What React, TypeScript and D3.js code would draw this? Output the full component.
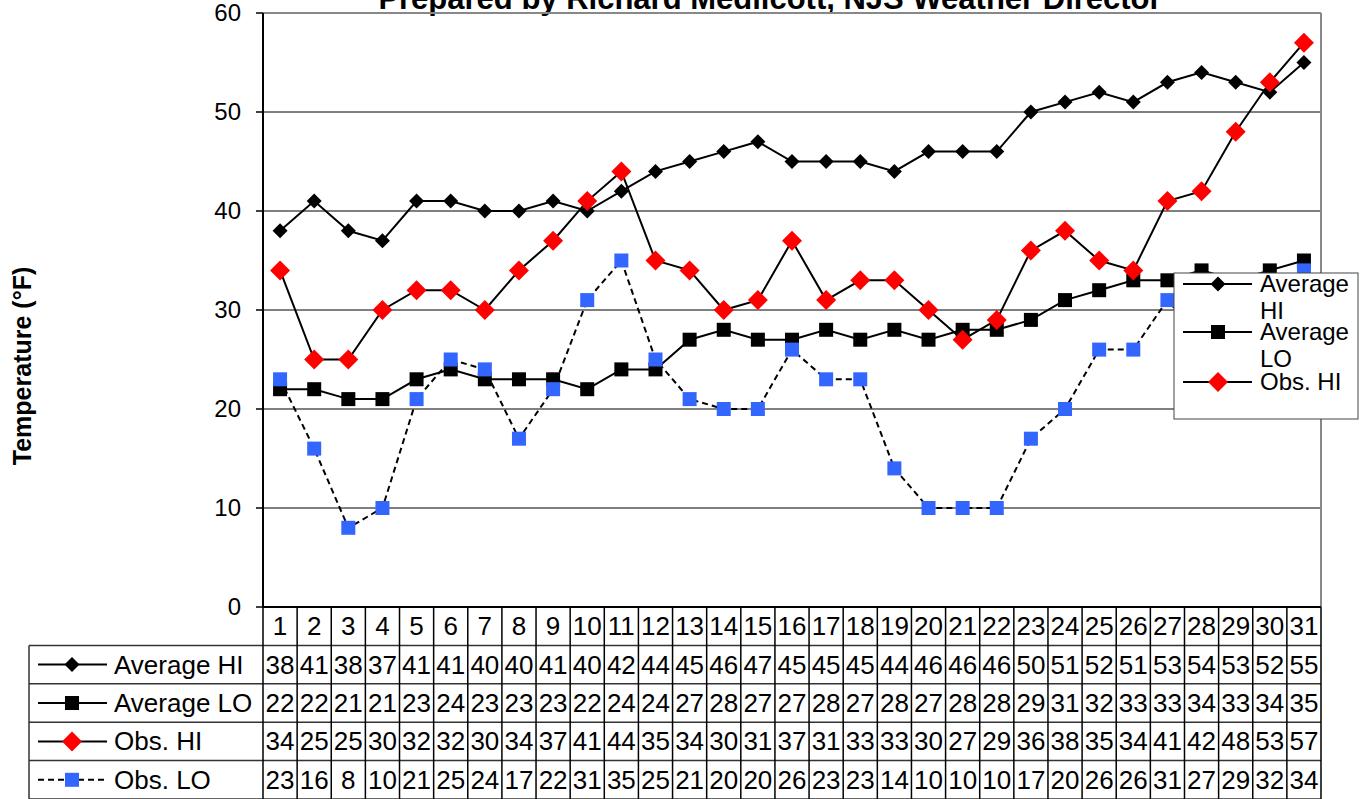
import React from 'react';
import * as d3 from 'd3';

const days = d3.range(1, 32).map(String);
const avgHi = [38, 41, 38, 37, 41, 41, 40, 40, 41, 40, 42, 44, 45, 46, 47, 45, 45, 45, 44, 46, 46, 46, 50, 51, 52, 51, 53, 54, 53, 52, 55];
const avgLo = [22, 22, 21, 21, 23, 24, 23, 23, 23, 22, 24, 24, 27, 28, 27, 27, 28, 27, 28, 27, 28, 28, 29, 31, 32, 33, 33, 34, 33, 34, 35];
const obsHi = [34, 25, 25, 30, 32, 32, 30, 34, 37, 41, 44, 35, 34, 30, 31, 37, 31, 33, 33, 30, 27, 29, 36, 38, 35, 34, 41, 42, 48, 53, 57];
const obsLo = [23, 16, 8, 10, 21, 25, 24, 17, 22, 31, 35, 25, 21, 20, 20, 26, 23, 23, 14, 10, 10, 10, 17, 20, 26, 26, 31, 27, 29, 32, 34];
const yTicks = [0, 10, 20, 30, 40, 50, 60];

type Marker = 'diamond' | 'bigdiamond' | 'square';
interface Series { name: string; legend: string[]; values: number[]; marker: Marker; fill: string; dash?: string; }

const series: Series[] = [
  { name: 'Average HI', legend: ['Average', 'HI'], values: avgHi, marker: 'diamond', fill: '#000000' },
  { name: 'Average LO', legend: ['Average', 'LO'], values: avgLo, marker: 'square', fill: '#000000' },
  { name: 'Obs. HI', legend: ['Obs. HI'], values: obsHi, marker: 'bigdiamond', fill: '#ff0000' },
  { name: 'Obs. LO', legend: ['Obs. LO'], values: obsLo, marker: 'square', fill: '#3366ff', dash: '6,4' },
];

const FONT = 'Liberation Sans, Arial, sans-serif';
const W = 1362, H = 799;
const left = 263, right = 1321, top = 13, bottom = 607;
const rowH = 38.4;
const tableLeft = 29;

function MarkerShape({ kind, cx, cy, fill }: { kind: Marker; cx: number; cy: number; fill: string }) {
  if (kind === 'square') {
    return <rect x={cx - 7} y={cy - 7} width={14} height={14} fill={fill} />;
  }
  const r = kind === 'bigdiamond' ? 10 : 7.5;
  return <path d={`M${cx},${cy - r}L${cx + r},${cy}L${cx},${cy + r}L${cx - r},${cy}Z`} fill={fill} />;
}

export default function App() {
  const x = d3.scaleBand<string>().domain(days).range([left, right]);
  const y = d3.scaleLinear().domain([0, 60]).range([bottom, top]);
  const cx = (d: string) => (x(d) || 0) + x.bandwidth() / 2;

  const line = d3.line<number>()
    .x((_, i) => cx(days[i]))
    .y(v => y(v));

  const rowsY = d3.range(0, 6).map(i => bottom + i * rowH);

  return (
    <svg width={W} height={H} style={{ position: 'absolute', left: 0, top: 0 }} fontFamily={FONT}>
      <rect width={W} height={H} fill="#fff" />

      {/* title (cut off at top) */}
      <text x={770} y={9} textAnchor="middle" fontSize={31} fontWeight="bold">
        Prepared by Richard Medlicott, NJS Weather Director
      </text>

      {/* gridlines */}
      {yTicks.filter(t => t > 0 && t < 60).map(t => (
        <line key={t} x1={left} x2={right} y1={y(t)} y2={y(t)} stroke="#000" strokeWidth={1} />
      ))}
      {/* plot border */}
      <line x1={left} x2={right} y1={top} y2={top} stroke="#888" strokeWidth={2} />
      <line x1={right} x2={right} y1={top} y2={bottom} stroke="#888" strokeWidth={2} />

      {/* y axis */}
      <line x1={left} x2={left} y1={top} y2={bottom} stroke="#000" strokeWidth={2} />
      {yTicks.map(t => (
        <g key={t}>
          <line x1={left - 7} x2={left} y1={y(t)} y2={y(t)} stroke="#000" strokeWidth={1.5} />
          <text x={241} y={y(t) + 8} textAnchor="end" fontSize={24}>{t}</text>
        </g>
      ))}
      <text transform="translate(31,366) rotate(-90)" textAnchor="middle" fontSize={25} fontWeight="bold">
        Temperature (°F)
      </text>

      {/* series */}
      {series.map(s => (
        <g key={s.name}>
          <path d={line(s.values) || ''} fill="none" stroke="#000" strokeWidth={2} strokeDasharray={s.dash} />
          {s.values.map((v, i) => (
            <MarkerShape key={i} kind={s.marker} cx={cx(days[i])} cy={y(v)} fill={s.fill} />
          ))}
        </g>
      ))}

      {/* legend box */}
      <g>
        <rect x={1174} y={273} width={184} height={146} fill="#fff" stroke="#444" strokeWidth={1} />
        {series.slice(0, 3).map((s, i) => {
          const ly = [284, 332, 382][i];
          return (
            <g key={s.name}>
              <line x1={1183} x2={1252} y1={ly} y2={ly} stroke="#000" strokeWidth={2} />
              <MarkerShape kind={s.marker} cx={1218} cy={ly} fill={s.fill} />
              {s.legend.map((t, j) => (
                <text key={j} x={1260} y={ly + 8 + j * 27} fontSize={24}>{t}</text>
              ))}
            </g>
          );
        })}
      </g>

      {/* data table */}
      <g>
        {rowsY.slice(1).map((ry, i) => (
          <line key={i} x1={tableLeft} x2={right} y1={ry} y2={ry} stroke="#333" strokeWidth={1.5} />
        ))}
        <line x1={left} x2={right} y1={bottom} y2={bottom} stroke="#000" strokeWidth={2} />
        <line x1={tableLeft} x2={tableLeft} y1={rowsY[1]} y2={H} stroke="#333" strokeWidth={1.5} />
        {days.map(d => (
          <line key={d} x1={x(d) || 0} x2={x(d) || 0} y1={bottom} y2={H} stroke="#000" strokeWidth={1.5} />
        ))}
        <line x1={right} x2={right} y1={bottom} y2={H} stroke="#000" strokeWidth={1.5} />
        {days.map(d => (
          <text key={d} x={cx(d)} y={bottom + rowH / 2 + 9} textAnchor="middle" fontSize={26}>{d}</text>
        ))}
        {series.map((s, r) => {
          const my = rowsY[r + 1] + rowH / 2;
          return (
            <g key={s.name}>
              <line x1={38} x2={107} y1={my} y2={my} stroke="#000" strokeWidth={2} strokeDasharray={s.dash} />
              <MarkerShape kind={s.marker} cx={72} cy={my} fill={s.fill} />
              <text x={114} y={my + 9} fontSize={26}>{s.name}</text>
              {s.values.map((v, i) => (
                <text key={i} x={cx(days[i])} y={my + 9} textAnchor="middle" fontSize={26}>{v}</text>
              ))}
            </g>
          );
        })}
      </g>
    </svg>
  );
}
